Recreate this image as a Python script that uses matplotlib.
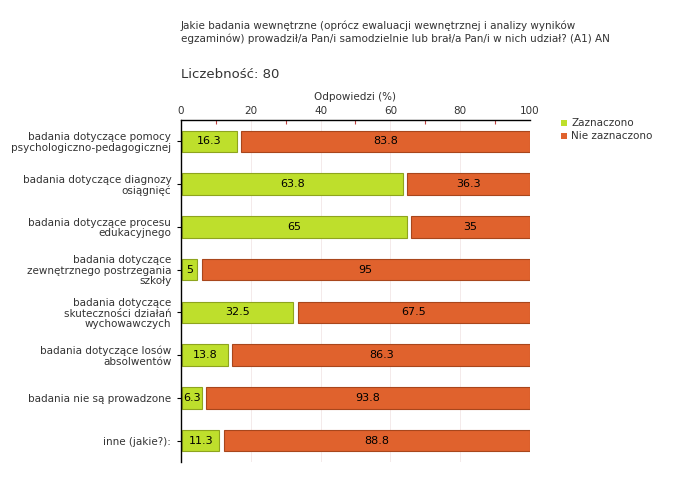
import matplotlib.pyplot as plt
from matplotlib.patches import Rectangle

categories = [
    "badania dotyczące pomocy\npsychologiczno-pedagogicznej",
    "badania dotyczące diagnozy\nosiągnięć",
    "badania dotyczące procesu\nedukacyjnego",
    "badania dotyczące\nzewnętrznego postrzegania\nszkoły",
    "badania dotyczące\nskuteczności działań\nwychowawczych",
    "badania dotyczące losów\nabsolwentów",
    "badania nie są prowadzone",
    "inne (jakie?):",
]
zaznaczono = [16.3, 63.8, 65, 5, 32.5, 13.8, 6.3, 11.3]
nie_zaznaczono = [83.8, 36.3, 35, 95, 67.5, 86.3, 93.8, 88.8]
val_labels_a = ["16.3", "63.8", "65", "5", "32.5", "13.8", "6.3", "11.3"]
val_labels_b = ["83.8", "36.3", "35", "95", "67.5", "86.3", "93.8", "88.8"]

green = "#bedf2c"
green_edge = "#8ea41e"
orange = "#e0622d"
orange_edge = "#a8461c"
txt = "#333333"

plt.rcParams['font.family'] = ['DejaVu Sans']

fig = plt.figure(figsize=(6.8, 4.8), dpi=100)
ax = fig.add_axes([181 / 680, 1 - 462 / 480, 349 / 680, 342 / 480])

n = len(categories)
ys = list(range(n))
h = 0.5
gap = 0.6
for y, a, b, la, lb in zip(ys, zaznaczono, nie_zaznaczono, val_labels_a, val_labels_b):
    ax.barh(y, a - gap, left=0.3, height=h, color=green, edgecolor=green_edge, linewidth=0.8)
    start = a + gap + 0.3
    ax.barh(y, 100 - start, left=start, height=h, color=orange, edgecolor=orange_edge, linewidth=0.8)
    ax.text(0.3 + (a - gap) / 2, y, la, ha="center", va="center", fontsize=8, color="black")
    ax.text(start + (100 - start) / 2, y, lb, ha="center", va="center", fontsize=8, color="black")

ax.set_xlim(0, 100)
ax.set_ylim(n - 0.5, -0.5)
ax.set_yticks(ys)
ax.set_yticklabels(categories, fontsize=7.5, color=txt, linespacing=1.05)
ax.xaxis.tick_top()
ax.xaxis.set_label_position("top")
ax.set_xticks([0, 20, 40, 60, 80, 100])
ax.set_xticks([10, 30, 50, 70, 90], minor=True)
ax.tick_params(axis="x", which="major", labelsize=7.5, labelcolor=txt, length=0, pad=3)
ax.tick_params(axis="x", which="minor", direction="in", length=3, color="#c04040", width=0.8)
ax.tick_params(axis="y", length=3, width=0.8, pad=4)
ax.set_xlabel("Odpowiedzi (%)", fontsize=7.5, color=txt, labelpad=4)
for v in [20, 40, 60, 80]:
    ax.axvline(v, color="#f3e6e6", linewidth=0.6, zorder=0)
ax.spines["right"].set_visible(False)
ax.spines["bottom"].set_visible(False)
ax.spines["top"].set_linewidth(1.0)
ax.spines["left"].set_linewidth(1.0)

fig.text(181 / 680, 1 - 32 / 480,
         "Jakie badania wewnętrzne (oprócz ewaluacji wewnętrznej i analizy wyników\n"
         "egzaminów) prowadził/a Pan/i samodzielnie lub brał/a Pan/i w nich udział? (A1) AN",
         fontsize=7.5, color=txt, va="center", ha="left", linespacing=1.35)
fig.text(181 / 680, 1 - 75 / 480, "Liczebność: 80", fontsize=9.5, color=txt, va="center", ha="left")

# legend
for i, (lab, col, ec) in enumerate([("Zaznaczono", green, green_edge), ("Nie zaznaczono", orange, orange_edge)]):
    yy = 1 - (123 + 13 * i) / 480
    fig.patches.append(Rectangle((561 / 680, yy - 3 / 480), 6 / 680, 6 / 480,
                                 transform=fig.transFigure, facecolor=col, edgecolor="none"))
    fig.text(571 / 680, yy, lab, fontsize=7.5, color=txt, va="center", ha="left")

fig.savefig("out.png", dpi=100, facecolor="white")
